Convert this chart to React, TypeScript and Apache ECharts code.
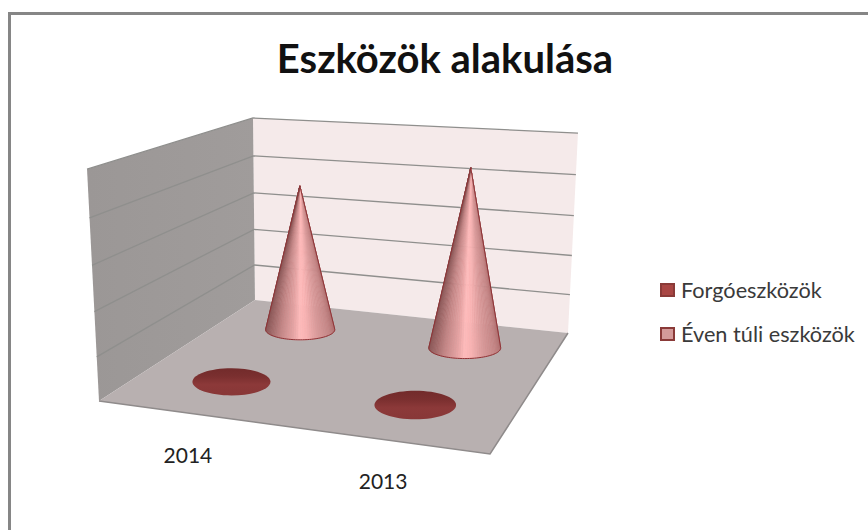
import React, { useEffect, useRef } from "react";
import * as echarts from "echarts";

const titleText = "Eszközök alakulása";
const categories = ["2014", "2013"];
const seriesNames = ["Forgóeszközök", "Éven túli eszközök"];
const currentAssets = [0.13, 0.13];
const fixedAssets = [3.7, 4.4];
const valueTicks = [0, 1, 2, 3, 4, 5];

const F = "Lato, Carlito, sans-serif";
// perspective matrix: (u, v, z) on the plot box -> page pixels
const M = { a: 346.4, b: 225.3, c: 99, d: 11.6, e: -19.4, f: 401, g: -0.0911, h: 0.2719, r: -0.06 };
function project(u: number, v: number, z: number) {
  const w = M.g * u + M.h * v + M.r * z + 1;
  const p = -17.2 - 0.5 * v - 5.2 * u * v;
  const q = -242 + 3.4 * v - 5.5 * u * v;
  return { x: (M.a * u + M.b * v + p * z + M.c) / w, y: (M.d * u + M.e * v + q * z + M.f) / w, w };
}
const P = (u: number, v: number, z: number) => {
  const o = project(u, v, z);
  return [o.x, o.y];
};
function toUZ(api: any, params: any, cat: number, val: number) {
  const c = api.coord([cat, val]);
  const s = params.coordSys;
  return { u: (c[0] - s.x) / s.width, z: (s.y + s.height - c[1]) / s.height };
}
function hex(c: number[]) {
  return "rgb(" + c.map((n) => Math.round(n)).join(",") + ")";
}
const coneStops: [number, number[]][] = [
  [-1, [140, 88, 88]],
  [-0.6, [194, 133, 133]],
  [-0.2, [232, 165, 165]],
  [-0.02, [255, 188, 188]],
  [0.15, [250, 180, 180]],
  [0.5, [217, 154, 154]],
  [0.85, [196, 133, 133]],
  [1, [176, 112, 112]],
];
function shade(p: number) {
  for (let i = 1; i < coneStops.length; i++) {
    if (p <= coneStops[i][0]) {
      const [a, ca] = coneStops[i - 1];
      const [b, cb] = coneStops[i];
      const t = (p - a) / (b - a);
      return hex(ca.map((v, k) => v + (cb[k] - v) * t));
    }
  }
  return hex(coneStops[coneStops.length - 1][1]);
}
function ellipseOf(u: number, v: number) {
  const o = project(u, v, 0);
  const rx = 40.8 / o.w;
  return { cx: o.x, cy: o.y, rx, ry: rx * (0.3775 - 0.11 * v) };
}
function renderCone(depth: number) {
  return (params: any, api: any) => {
    const { u, z } = toUZ(api, params, api.value(0), api.value(1));
    const e = ellipseOf(u, depth);
    const apex = P(u, depth, z);
    const H = e.cy - apex[1];
    const children: any[] = [];
    const pt = (t: number) => [e.cx + e.rx * Math.cos(t), e.cy + e.ry * Math.sin(t)];
    if (H > e.ry) {
      const a0 = Math.asin(-e.ry / H);
      const a1 = Math.PI - a0;
      const N = 48;
      const rim: number[][] = [];
      for (let i = 0; i <= N; i++) rim.push(pt(a0 + ((a1 - a0) * i) / N));
      for (let i = 0; i < N; i++) {
        const mid = a0 + ((a1 - a0) * (i + 0.5)) / N;
        const col = shade(Math.max(-1, Math.min(1, Math.cos(mid))));
        children.push({
          type: "polygon",
          shape: { points: [apex, rim[i], rim[i + 1]] },
          style: { fill: col, stroke: col, lineWidth: 0.6 },
        });
      }
      children.push({
        type: "polygon",
        shape: { points: [apex, ...rim] },
        style: { fill: "none", stroke: "#8e3336", lineWidth: 1 },
      });
    } else {
      const off = Math.max(0.05, Math.min(0.7, (e.ry - H) / (2 * e.ry)));
      children.push({
        type: "ellipse",
        shape: { cx: e.cx, cy: e.cy, rx: e.rx, ry: e.ry },
        style: {
          fill: new echarts.graphic.LinearGradient(0, 0, 0, 1, [
            { offset: 0, color: "#722b2b" },
            { offset: off, color: "#7a2f2f" },
            { offset: Math.min(1, off + 0.3), color: "#8c3939" },
            { offset: 1, color: "#883737" },
          ]),
        },
      });
    }
    return { type: "group", children };
  };
}
function renderBox(params: any, api: any) {
  const zs = valueTicks.map((t) => toUZ(api, params, 0, t).z);
  const top = zs[zs.length - 1];
  const children: any[] = [
    {
      type: "polygon",
      shape: { points: [P(0, 1, 0), P(1, 1, 0), P(1, 1, top), P(0, 1, top)] },
      style: { fill: "#f5eaea" },
    },
    {
      type: "polygon",
      shape: { points: [P(0, 0, 0), P(0, 1, 0), P(0, 1, top), P(0, 0, top)] },
      style: {
        fill: new echarts.graphic.LinearGradient(0, 0, 1, 0, [
          { offset: 0, color: "#9b9796" },
          { offset: 1, color: "#a09c9b" },
        ]),
      },
    },
    {
      type: "polygon",
      shape: { points: [P(0, 0, 0), P(1, 0, 0), P(1, 1, 0), P(0, 1, 0)] },
      style: { fill: "#b8b0b0" },
    },
    {
      type: "polyline",
      shape: { points: [P(0, 0, 0), P(1, 0, 0), P(1, 1, 0)] },
      style: { fill: "none", stroke: "#8f8b8b", lineWidth: 1.5 },
    },
  ];
  zs.forEach((z, i) => {
    if (i === 0) return;
    children.push({
      type: "polyline",
      shape: { points: [P(0, 0, z), P(0, 1, z), P(1, 1, z)] },
      style: { fill: "none", stroke: "#8f8f8d", lineWidth: 1.3 },
    });
  });
  return { type: "group", children };
}
function renderLabel(params: any, api: any) {
  const cat = api.value(0);
  const { u } = toUZ(api, params, cat, 0);
  const o = project(u, 0, 0);
  return {
    type: "text",
    style: {
      x: o.x - 2,
      y: o.y + 41,
      text: categories[cat],
      font: "21px " + F,
      fill: "#222",
      align: "center",
      verticalAlign: "middle",
    },
  };
}

export default function App() {
  const ref = useRef<HTMLDivElement>(null);
  useEffect(() => {
    const chart = echarts.init(ref.current!, undefined, { renderer: "svg" });
    chart.setOption({
      animation: false,
      backgroundColor: "#fff",
      title: {
        text: titleText,
        left: 440,
        top: 33,
        textAlign: "center",
        textStyle: { fontFamily: F, fontSize: 40, fontWeight: "bold", color: "#111" },
      },
      grid: { left: 100, top: 100, width: 400, height: 300, show: false },
      xAxis: { type: "category", data: categories, show: false },
      yAxis: { type: "value", min: 0, max: 5, interval: 1, show: false },
      legend: {
        orient: "vertical",
        left: 655,
        top: 273,
        itemWidth: 13,
        itemHeight: 12,
        itemGap: 20,
        selectedMode: false,
        textStyle: { fontFamily: F, fontSize: 21.7, color: "#3a3a3a", padding: [0, 0, 0, 2], lineHeight: 24 },
        data: [
          { name: seriesNames[0], icon: "rect", itemStyle: { color: "#a94644", borderColor: "#8a3a38", borderWidth: 2 } },
          { name: seriesNames[1], icon: "rect", itemStyle: { color: "#d49a99", borderColor: "#8a3a38", borderWidth: 2 } },
        ],
      },
      graphic: [
        {
          type: "rect",
          z: 100,
          shape: { x: 9.5, y: 13.5, width: 900, height: 600 },
          style: { fill: "none", stroke: "#868686", lineWidth: 3 },
        },
      ],
      series: [
        { type: "custom", name: "box", renderItem: renderBox, data: [[0, 0]], silent: true, z: 1, clip: false },
        {
          type: "custom",
          name: seriesNames[1],
          renderItem: renderCone(0.75),
          data: fixedAssets.map((v, i) => [i, v]),
          itemStyle: { color: "#d49a99" },
          silent: true,
          z: 2,
        },
        {
          type: "custom",
          name: seriesNames[0],
          renderItem: renderCone(0.25),
          data: currentAssets.map((v, i) => [i, v]),
          itemStyle: { color: "#a94644" },
          silent: true,
          z: 2,
        },
        { type: "custom", name: "labels", renderItem: renderLabel, data: categories.map((_, i) => [i, 0]), silent: true, z: 3 },
      ],
    });
    return () => chart.dispose();
  }, []);
  return <div ref={ref} style={{ position: "fixed", left: 0, top: 0, width: 868, height: 530 }} />;
}
